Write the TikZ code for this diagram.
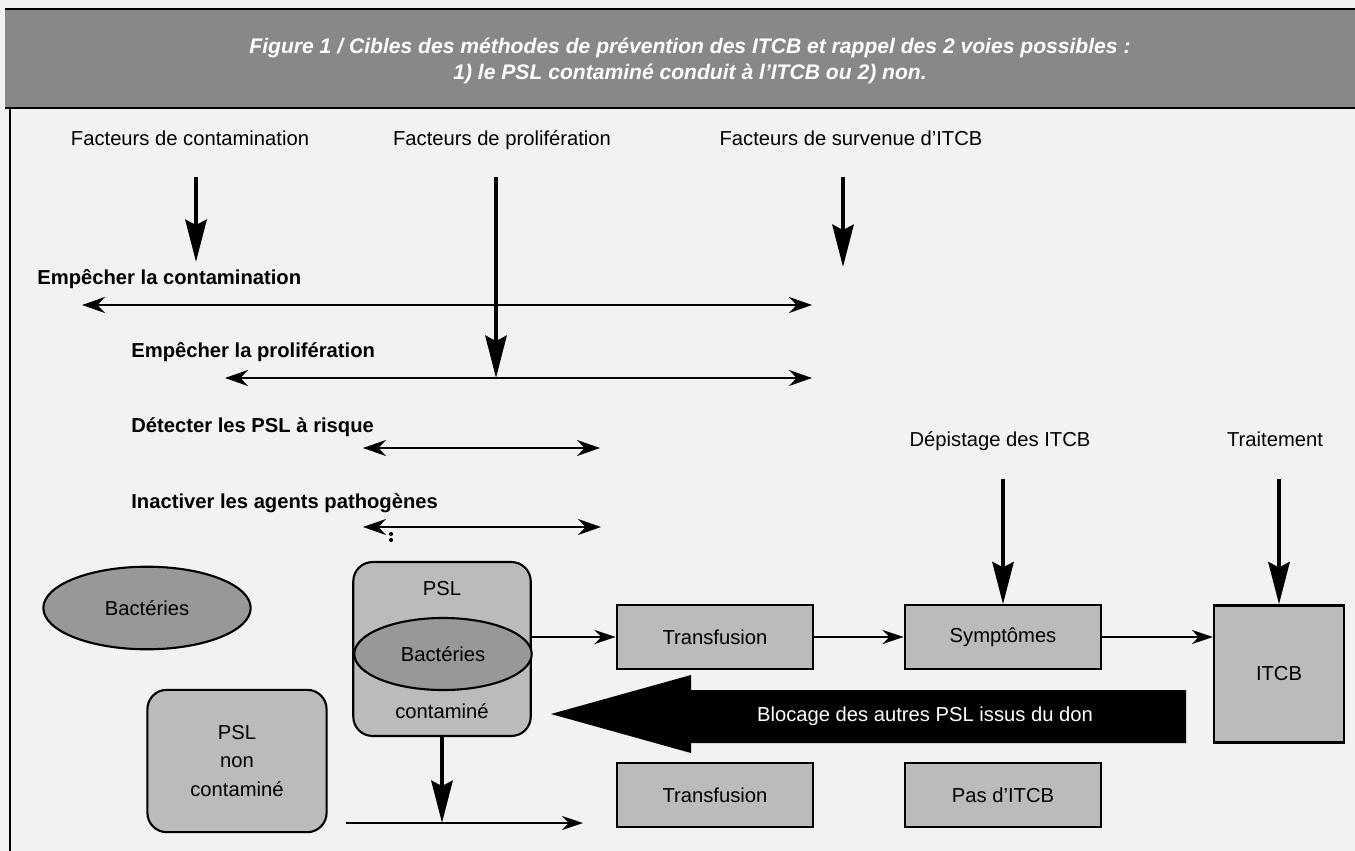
\documentclass[tikz,border=0pt]{standalone}
\usepackage{fontspec}
\setmainfont{Liberation Sans}
\usetikzlibrary{arrows.meta,shapes.geometric}
\definecolor{paper}{HTML}{F2F2F2}
\definecolor{bandgrey}{HTML}{888888}
\definecolor{boxgrey}{HTML}{BBBBBB}
\definecolor{bactgrey}{HTML}{989898}
\tikzset{
  txt/.style={font=\fontsize{11.5}{13}\selectfont, inner sep=0pt, text height=8.5pt, text depth=2.5pt},
  act/.style={font=\fontsize{11.5}{13}\selectfont\bfseries, anchor=west, inner sep=0pt,
    text height=8.5pt, text depth=2.5pt},
  stepbox/.style={draw, line width=1.2pt, fill=boxgrey, font=\fontsize{11.5}{13}\selectfont,
    minimum width=112pt, minimum height=36pt, inner sep=0pt},
  roundbox/.style={stepbox, rounded corners=11pt},
  bact/.style={ellipse, draw, line width=1.2pt, fill=bactgrey, inner sep=0pt,
    font=\fontsize{11.5}{13}\selectfont},
  bigarrow/.style={line width=2.8pt, -{Stealth[length=24pt,width=12pt,inset=3pt]}},
  dblarrow/.style={line width=1.7pt, {Stealth[length=13pt,width=9pt]}-{Stealth[length=13pt,width=9pt]}},
  flow/.style={line width=1.6pt, -{Stealth[length=12pt,width=8pt]}},
}
\begin{document}
\begin{tikzpicture}[x=0.02cm, y=-0.02cm]
  \useasboundingbox (0,0) rectangle (1355,851);
  \fill[paper] (0,0) rectangle (1355,851);
  % title band
  \fill[bandgrey] (5,9) rectangle (1355,108);
  \draw[line width=0.6pt] (5,9) -- (1355,9);
  \draw[line width=1.6pt] (5,108) -- (1355,108);
  \draw[line width=1pt] (10,108) -- (10,851);
  \node[text=white, align=center, inner sep=0pt,
        font=\fontsize{12}{14.7}\selectfont\bfseries\itshape] (title) at (690,61)
    {Figure 1 / Cibles des méthodes de prévention des ITCB et rappel des 2 voies possibles :\\
     1) le PSL contaminé conduit à l'ITCB ou 2) non.};

  % facteurs
  \node[txt] (fcont) at (190,140) {Facteurs de contamination};
  \node[txt] (fprol) at (502,140) {Facteurs de prolifération};
  \node[txt] (fsurv) at (851,140) {Facteurs de survenue d'ITCB};

  % methodes de prevention
  \node[act] (mcont) at (37,279) {Empêcher la contamination};
  \coordinate (mcontL) at (82,305);
  \coordinate (mcontR) at (812,305);
  \draw[dblarrow] (mcontL) -- (mcontR);
  \node[act] (mprol) at (131,352) {Empêcher la prolifération};
  \coordinate (mprolL) at (225,378);
  \coordinate (mprolR) at (812,378);
  \draw[dblarrow] (mprolL) -- (mprolR);
  \node[act] (mdet) at (131,427) {Détecter les PSL à risque};
  \coordinate (mdetL) at (363,448);
  \coordinate (mdetR) at (600,448);
  \draw[dblarrow] (mdetL) -- (mdetR);
  \node[act] (minact) at (131,503) {Inactiver les agents pathogènes};
  \coordinate (minactL) at (363,527);
  \coordinate (minactR) at (601,527);
  \draw[dblarrow] (minactL) -- (minactR);
  \fill (391,534) circle (1.2pt) (391,540) circle (1.2pt);

  \draw[bigarrow] (196,177) -- (196,262);
  \draw[bigarrow] (496,177) -- (mprolL -| 496,0);
  \draw[bigarrow] (843,177) -- (843,267);

  % chaine
  \node[bact, minimum width=118pt, minimum height=47pt] (bact) at (147,608) {Bactéries};
  \node[roundbox, minimum width=101pt, minimum height=99pt] (pslc) at (442,649) {};
  \node[txt] (pslcA) at (442,590) {PSL};
  \node[bact, minimum width=101pt, minimum height=41pt] (bactin) at (443,654) {Bactéries};
  \node[txt] (pslcB) at (442,713) {contaminé};
  \node[roundbox, minimum width=102pt, minimum height=81pt, align=center,
        font=\fontsize{11.5}{16}\selectfont] (pslnc) at (237,761) {PSL\\non\\contaminé};

  \node[stepbox] (trA) at (715,637) {Transfusion};
  \node[stepbox] (sym) at (1003,637) {Symptômes};
  \node[stepbox, minimum width=74pt, minimum height=78pt] (itcb) at (1279,674) {ITCB};
  \node[stepbox] (trB) at (715,795) {Transfusion};
  \node[stepbox] (pas) at (1003,795) {Pas d'ITCB};

  \draw[flow] (pslc.east |- trA) -- (trA.west);
  \draw[flow] (trA.east) -- (sym.west);
  \draw[flow] (sym.east) -- (itcb.west |- sym);

  \coordinate (ncStart) at (346,823);
  \coordinate (ncEnd) at (583,823);
  \draw[flow] (ncStart) -- (ncEnd);
  \draw[bigarrow] (pslc.south) -- (pslc.south |- ncStart);

  % depistage, traitement
  \node[txt] (dep) at (1000,441) {Dépistage des ITCB};
  \node[txt] (trt) at (1275,441) {Traitement};
  \draw[bigarrow] (dep.south -| sym.north) ++(0,28) -- (sym.north);
  \draw[bigarrow] (trt.south -| itcb.north) ++(0,28) -- (itcb.north);

  % blocage
  \fill (551,714) -- (691,675) -- (691,690) -- (1186,690) -- (1186,743)
    -- (691,743) -- (691,753) -- cycle;
  \node[txt, text=white] (bloc) at (925,716) {Blocage des autres PSL issus du don};
\end{tikzpicture}
\end{document}
